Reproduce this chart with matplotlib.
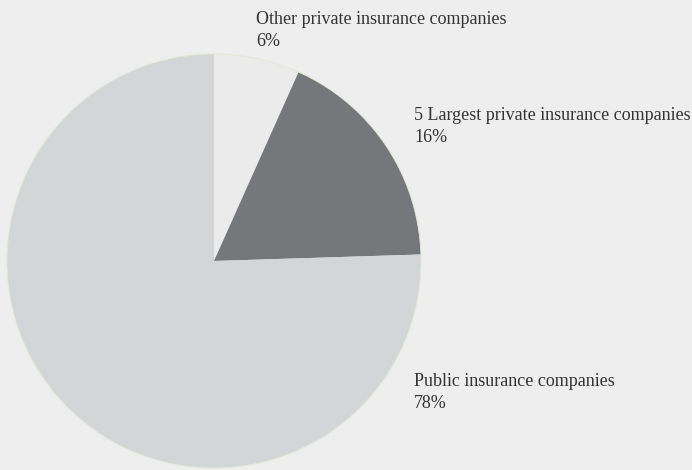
import matplotlib.pyplot as plt
from matplotlib.patches import Circle

# slices, clockwise from 12 o'clock
names = ["Other private insurance companies",
         "5 Largest private insurance companies",
         "Public insurance companies"]
shares = [6.7, 17.8, 75.5]          # sizes as drawn in the picture
pct_labels = ["6%", "16%", "78%"]   # labels as printed
colors = ["#ebebeb", "#76777a", "#d4d5d6"]

bg = "#eeeeee"
plt.rcParams['font.family'] = ['Liberation Serif', 'DejaVu Serif']

fig = plt.figure(figsize=(6.92, 4.70), dpi=100, facecolor=bg)
ax = fig.add_axes([0, 0, 1, 1])
ax.set_facecolor(bg)

cx, cy, r = 214, 470 - 261, 207
ax.pie(shares, colors=colors, startangle=90, counterclock=False,
       center=(cx, cy), radius=r, wedgeprops=dict(linewidth=0))
ax.add_patch(Circle((cx, cy), r, fill=False, edgecolor="#e0e9d4", linewidth=0.6))

# label positions (pixel coords, top-left origin)
label_xy = [(256, 19), (414, 115), (414, 382)]
for name, pct, (x, y) in zip(names, pct_labels, label_xy):
    ax.text(x, 470 - y, name, fontsize=13, color="#333333", va="center", ha="left")
    ax.text(x, 470 - y - 22, pct, fontsize=13, color="#333333", va="center", ha="left")

ax.set_xlim(0, 692)
ax.set_ylim(0, 470)
ax.set_aspect('equal')
ax.axis('off')

fig.savefig("out.png", dpi=100, facecolor=bg)
